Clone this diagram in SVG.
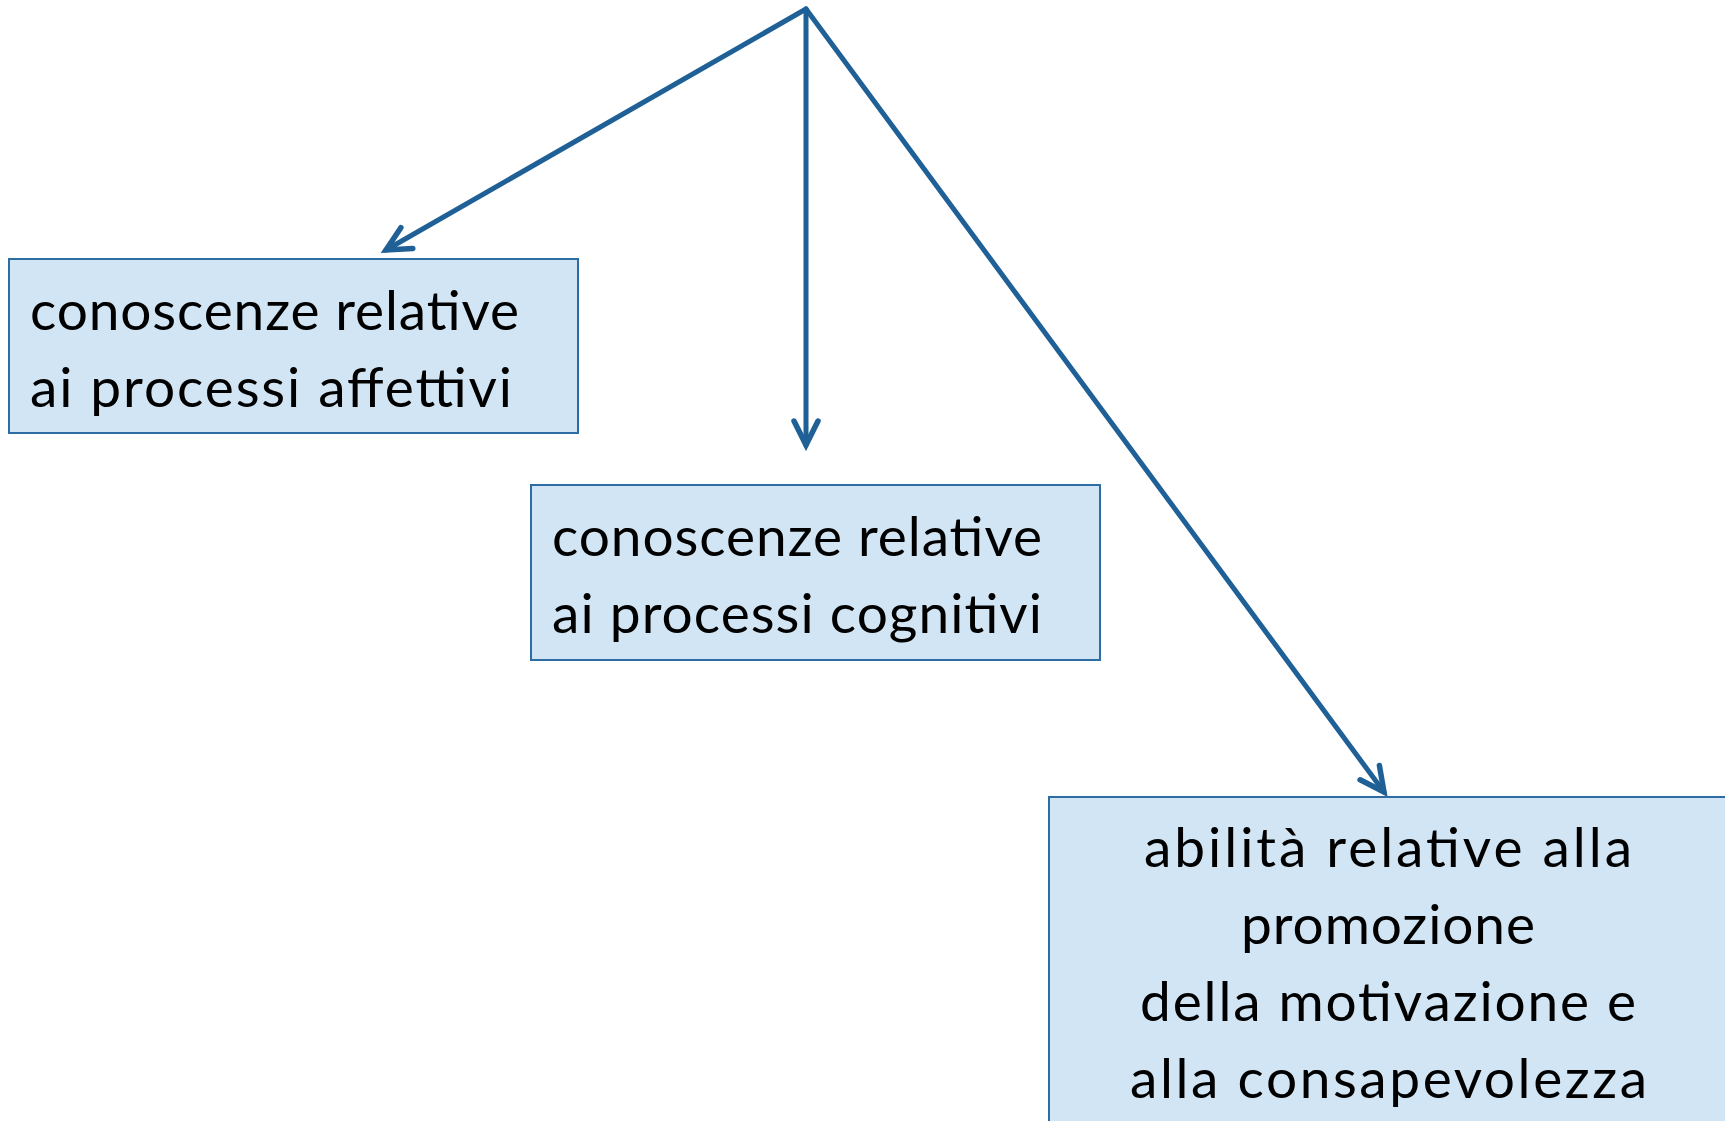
<svg xmlns="http://www.w3.org/2000/svg" width="1725" height="1121" viewBox="0 0 1725 1121">
<style>
.box{fill:#D1E5F4;stroke:#2E6DA4;stroke-width:2}
.lbl{font-family:"Lato","Liberation Sans",sans-serif;font-size:55px;fill:#000}
.conn{stroke:#1F6096;stroke-width:5;fill:none;stroke-linecap:round}
</style>
<defs>
<marker id="arr" markerUnits="userSpaceOnUse" orient="auto" markerWidth="40" markerHeight="40" refX="0" refY="0" viewBox="-30 -20 40 40" overflow="visible">
<path d="M-24,-12 L0,0 L-24,12" fill="none" stroke="#1F6096" stroke-width="5.5" stroke-linecap="round" stroke-linejoin="miter"/>
</marker>
</defs>
<rect width="1725" height="1121" fill="#fff"/>
<g id="connectors">
<line class="conn" x1="806" y1="9" x2="386" y2="250" marker-end="url(#arr)"/>
<line class="conn" x1="806" y1="9" x2="806" y2="445" marker-end="url(#arr)"/>
<line class="conn" x1="806" y1="9" x2="1384" y2="792" marker-end="url(#arr)"/>
</g>
<g id="node1">
<rect class="box" x="9" y="259" width="569" height="174"/>
<text class="lbl" x="30" y="330" textLength="489" lengthAdjust="spacing">conoscenze relative</text>
<text class="lbl" x="30" y="407" textLength="482" lengthAdjust="spacing">ai processi affettivi</text>
</g>
<g id="node2">
<rect class="box" x="531" y="485" width="569" height="175"/>
<text class="lbl" x="552" y="556" textLength="490" lengthAdjust="spacing">conoscenze relative</text>
<text class="lbl" x="552" y="633" textLength="490" lengthAdjust="spacing">ai processi cognitivi</text>
</g>
<g id="node3">
<rect class="box" x="1049" y="797" width="680" height="330"/>
<text class="lbl" x="1144" y="867" textLength="488" lengthAdjust="spacing">abilità relative alla</text>
<text class="lbl" x="1241" y="944" textLength="294" lengthAdjust="spacing">promozione</text>
<text class="lbl" x="1140" y="1021" textLength="496" lengthAdjust="spacing">della motivazione e</text>
<text class="lbl" x="1130" y="1098" textLength="517" lengthAdjust="spacing">alla consapevolezza</text>
</g>
</svg>
